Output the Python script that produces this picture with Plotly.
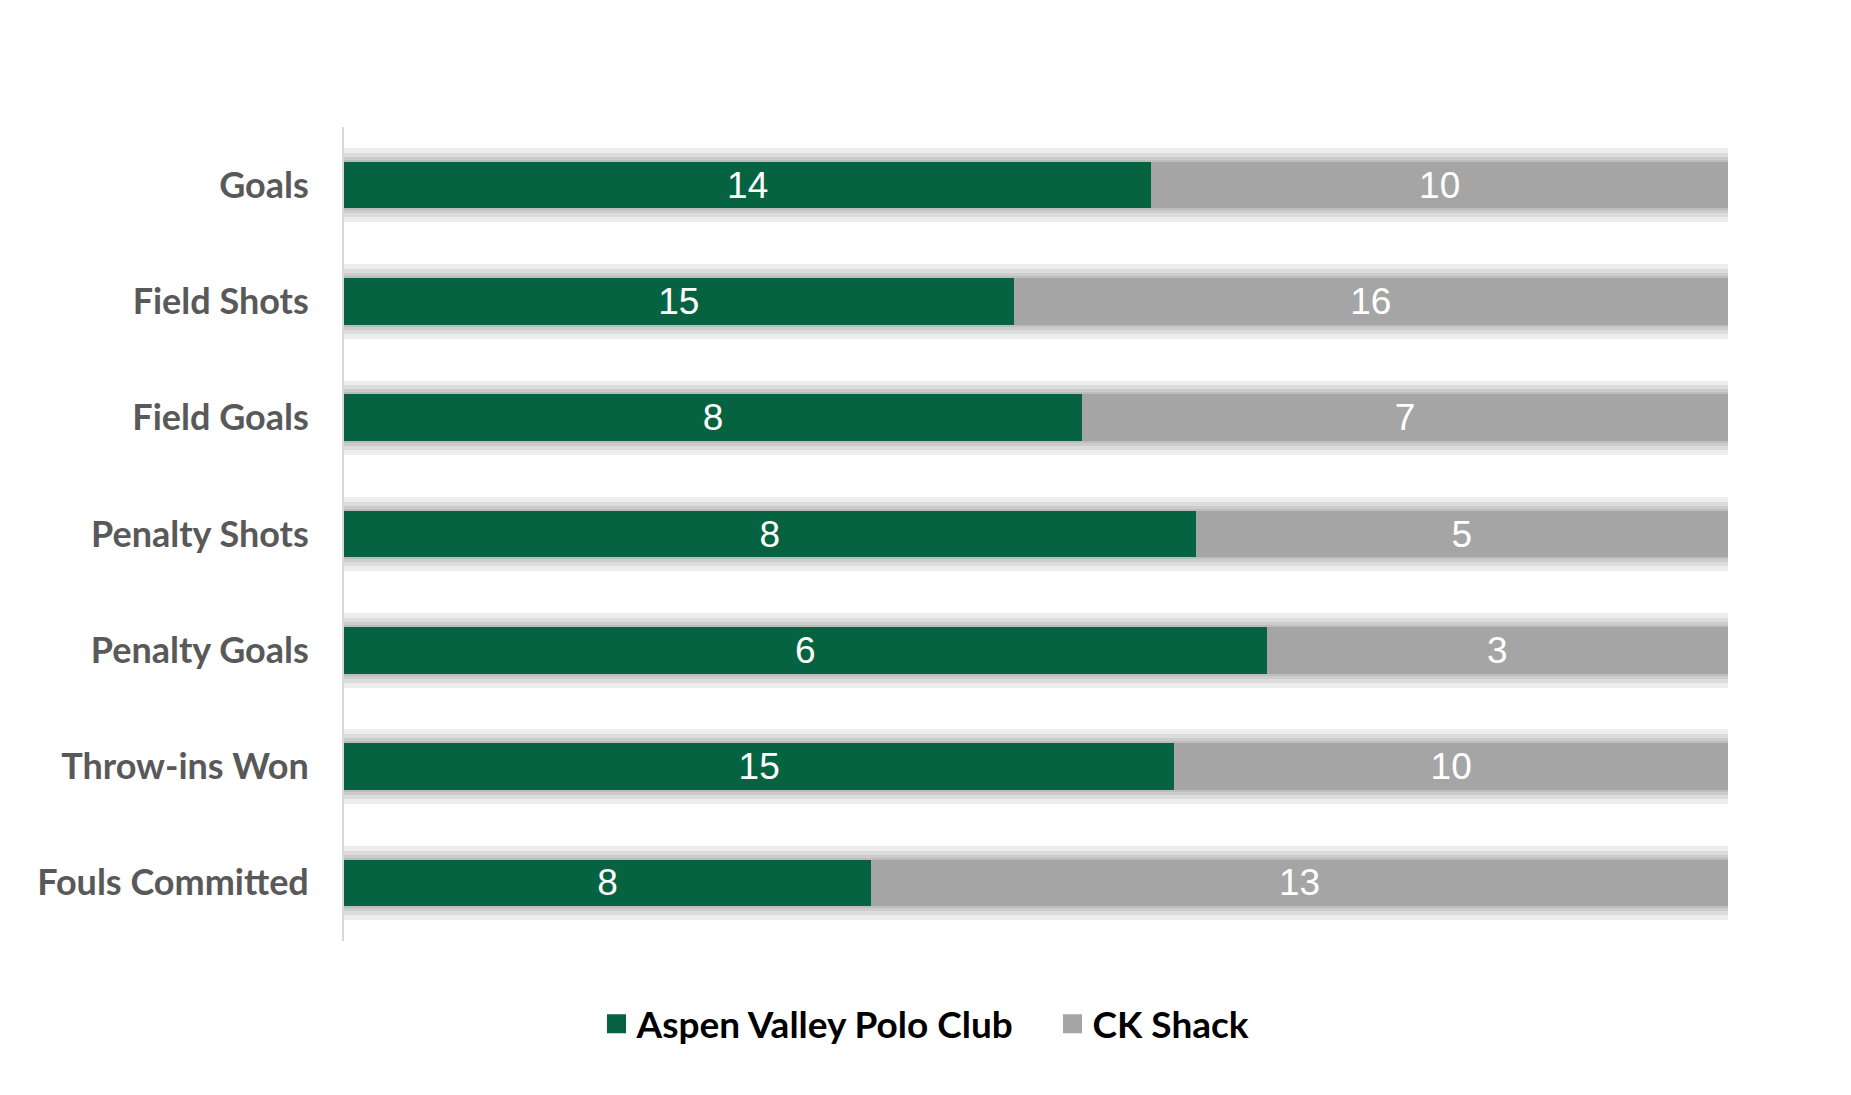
import plotly.graph_objects as go

categories = ["Goals", "Field Shots", "Field Goals", "Penalty Shots",
              "Penalty Goals", "Throw-ins Won", "Fouls Committed"]
aspen = [14, 15, 8, 8, 6, 15, 8]
ck_shack = [10, 16, 7, 5, 3, 10, 13]
series_names = ["Aspen Valley Polo Club", "CK Shack"]

GREEN = "#066341"
GRAY = "#A5A5A5"
totals = [a + c for a, c in zip(aspen, ck_shack)]

fig = go.Figure()

# soft drop-shadow layers behind the bars (one per overlaid axis)
shadow_widths = [0.64, 0.555, 0.486, 0.434]
shadow_axes = ["y", "y2", "y3", "y4"]
for w, ax in zip(shadow_widths, shadow_axes):
    fig.add_trace(go.Bar(
        y=categories, x=totals, orientation="h", width=w, yaxis=ax,
        marker=dict(color="rgba(0,0,0,0.07)", line=dict(width=0)),
        showlegend=False, hoverinfo="skip",
    ))

for name, vals, col in [(series_names[0], aspen, GREEN), (series_names[1], ck_shack, GRAY)]:
    fig.add_trace(go.Bar(
        y=categories, x=vals, name=name, orientation="h", yaxis="y5",
        marker=dict(color=col, line=dict(width=0)),
        text=[str(v) for v in vals], texttemplate="%{text}",
        textposition="inside", insidetextanchor="middle",
        textangle=0, constraintext="none",
        textfont=dict(family="Liberation Sans, Arial", size=37, color="white"),
        showlegend=False, hoverinfo="skip",
    ))

# legend entries
for name, col in [(series_names[0], GREEN), (series_names[1], GRAY)]:
    fig.add_trace(go.Scatter(
        x=[None], y=[None], mode="markers", name=name,
        marker=dict(symbol="square", size=16, color=col,
                    line=dict(color=col, width=3)),
    ))

fig.update_layout(
    barmode="stack", barnorm="percent", bargap=0.6,
    width=1851, height=1095,
    margin=dict(l=336, r=131, t=119, b=162),
    paper_bgcolor="white", plot_bgcolor="white",
    showlegend=True,
    legend=dict(
        orientation="h", xref="container", yref="container",
        x=0.5643, xanchor="center", y=0.072, yanchor="middle",
        font=dict(family="Lato", size=37, color="#000000", weight="bold"),
        itemwidth=30, traceorder="normal",
        entrywidth=411, entrywidthmode="pixels",
    ),
)
fig.update_xaxes(range=[0, 100], visible=False, showgrid=False, zeroline=False)

common = dict(type="category", categoryorder="array", categoryarray=categories,
              range=[6.5, -0.5], showgrid=False, zeroline=False)
fig.update_layout(
    yaxis=dict(**common, showline=True, linecolor="#D9D9D9", linewidth=2,
               ticks="", ticklabelstandoff=26,
               tickfont=dict(family="Lato", size=36, color="#595959", weight="bold")),
    yaxis2=dict(**common, overlaying="y", visible=False),
    yaxis3=dict(**common, overlaying="y", visible=False),
    yaxis4=dict(**common, overlaying="y", visible=False),
    yaxis5=dict(**common, overlaying="y", visible=False),
)
fig.write_html("out.html")
